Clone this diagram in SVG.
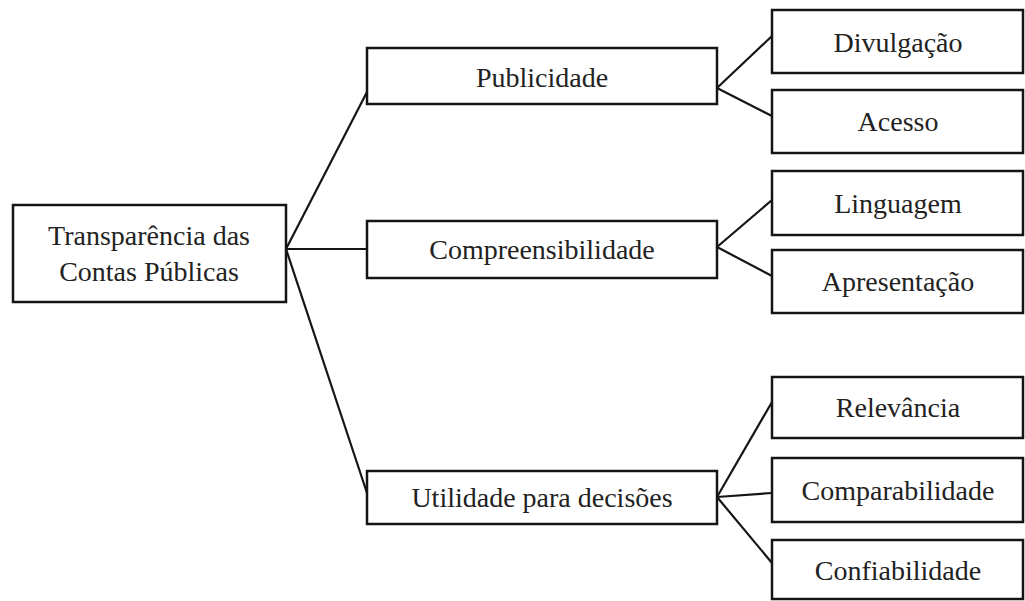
<svg xmlns="http://www.w3.org/2000/svg" width="1025" height="601" viewBox="0 0 1025 601">
<style>
.box{fill:#fff;stroke:#151515;stroke-width:2.5}
.lbl{font-family:"Liberation Serif","Times New Roman",serif;font-size:28px;fill:#222;text-anchor:middle}
.con{stroke:#151515;stroke-width:2.2;fill:none}
</style>
<rect width="1025" height="601" fill="#fff"/>
<g id="connectors">
<line class="con" x1="286" y1="249" x2="367" y2="92"/>
<line class="con" x1="286" y1="249" x2="367" y2="249"/>
<line class="con" x1="286" y1="249" x2="367" y2="493"/>
<line class="con" x1="717" y1="88" x2="772" y2="36"/>
<line class="con" x1="717" y1="88" x2="772" y2="116"/>
<line class="con" x1="717" y1="247" x2="772" y2="200"/>
<line class="con" x1="717" y1="247" x2="772" y2="276"/>
<line class="con" x1="717" y1="497" x2="772" y2="402"/>
<line class="con" x1="717" y1="497" x2="772" y2="493"/>
<line class="con" x1="717" y1="497" x2="772" y2="563"/>
</g>
<g id="root">
<rect class="box" x="13" y="205" width="273" height="97"/>
<text class="lbl" x="149" y="245">Transparência das</text>
<text class="lbl" x="149" y="281">Contas Públicas</text>
</g>
<g id="publicidade">
<rect class="box" x="367" y="48" width="350" height="56"/>
<text class="lbl" x="542" y="87">Publicidade</text>
</g>
<g id="compreensibilidade">
<rect class="box" x="367" y="221" width="350" height="57"/>
<text class="lbl" x="542" y="259">Compreensibilidade</text>
</g>
<g id="utilidade">
<rect class="box" x="367" y="471" width="350" height="53"/>
<text class="lbl" x="542" y="507">Utilidade para decisões</text>
</g>
<g id="divulgacao">
<rect class="box" x="772" y="10" width="251" height="63"/>
<text class="lbl" x="898" y="52">Divulgação</text>
</g>
<g id="acesso">
<rect class="box" x="772" y="90" width="251" height="63"/>
<text class="lbl" x="898" y="131">Acesso</text>
</g>
<g id="linguagem">
<rect class="box" x="772" y="171" width="251" height="64"/>
<text class="lbl" x="898" y="213">Linguagem</text>
</g>
<g id="apresentacao">
<rect class="box" x="772" y="250" width="251" height="63"/>
<text class="lbl" x="898" y="291">Apresentação</text>
</g>
<g id="relevancia">
<rect class="box" x="772" y="377" width="251" height="61"/>
<text class="lbl" x="898" y="417">Relevância</text>
</g>
<g id="comparabilidade">
<rect class="box" x="772" y="458" width="251" height="64"/>
<text class="lbl" x="898" y="500">Comparabilidade</text>
</g>
<g id="confiabilidade">
<rect class="box" x="772" y="540" width="251" height="59"/>
<text class="lbl" x="898" y="580">Confiabilidade</text>
</g>
</svg>
